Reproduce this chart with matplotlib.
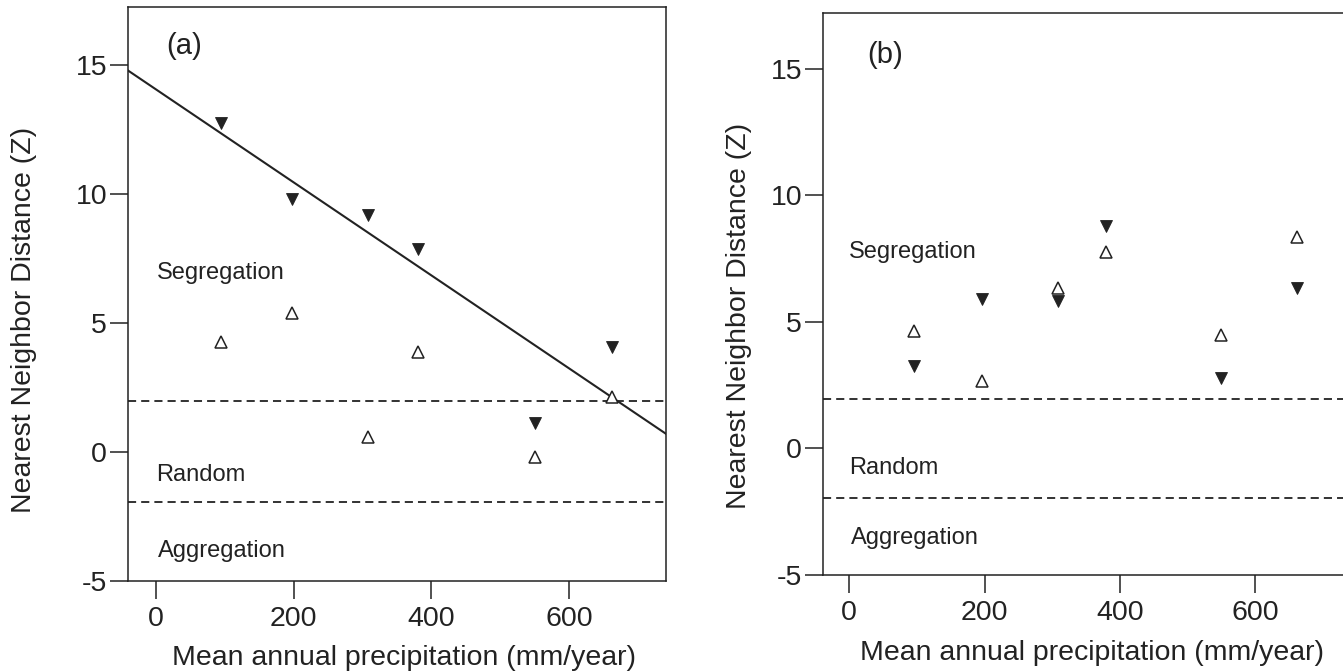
import matplotlib
matplotlib.use("Agg")
import matplotlib.pyplot as plt
import numpy as np

plt.rcParams['font.family'] = ['Liberation Sans', 'DejaVu Sans']
plt.rcParams['axes.unicode_minus'] = False

# precipitation (mm/year) of the six sites
precip = [95, 197, 308, 380, 550, 662]

# panel (a)
a_filled = [12.74, 9.81, 9.19, 7.87, 1.10, 4.07]
a_open = [4.24, 5.38, 0.56, 3.87, -0.19, 2.13]
# panel (b)
b_filled = [3.27, 5.91, 5.83, 8.79, 2.79, 6.33]
b_open = [4.64, 2.68, 6.33, 7.78, 4.49, 8.35]

xticks = [0, 200, 400, 600]
yticks = [-5, 0, 5, 10, 15]
zone_labels = ['Segregation', 'Random', 'Aggregation']
crit = 1.96

ink = '#222222'

fig = plt.figure(figsize=(13.43, 6.72), dpi=100)
ax_a = fig.add_axes([0.09553, 0.13586, 0.40015, 0.85327])
ax_b = fig.add_axes([0.61303, 0.14479, 0.39196, 0.83631])


def style(ax, xlim, ylim):
    ax.set_xlim(*xlim)
    ax.set_ylim(*ylim)
    ax.set_xticks(xticks)
    ax.set_yticks(yticks)
    ax.tick_params(direction='out', length=13.3, width=1.1, colors=ink,
                   labelsize=20.5)
    ax.tick_params(axis='x', pad=5)
    ax.tick_params(axis='y', pad=2)
    for s in ax.spines.values():
        s.set_linewidth(1.1)
        s.set_color(ink)
    ax.axhline(crit, color=ink, lw=1.3, ls=(0, (4.5, 2.8)))
    ax.axhline(-crit, color=ink, lw=1.3, ls=(0, (4.5, 2.8)))
    ax.set_xlabel('Mean annual precipitation (mm/year)', fontsize=20.5,
                  color=ink, va='top')
    ax.set_ylabel('Nearest Neighbor Distance (Z)', fontsize=20.5, color=ink)


style(ax_a, (-40, 740), (-5, 17.235))
style(ax_b, (-38.4, 740), (-5, 17.226))

# markers
for ax, filled, hollow in [(ax_a, a_filled, a_open), (ax_b, b_filled, b_open)]:
    ax.plot(precip, filled, ls='none', marker='v', ms=8.6, color=ink,
            mec=ink, mew=0.6, zorder=3)
    ax.plot(precip, hollow, ls='none', marker='^', ms=8.2, mfc='white',
            mec=ink, mew=1.1, zorder=3)

# regression line for filled markers in (a)
k, b0 = np.polyfit(precip, a_filled, 1)
xx = np.array([-40, 740])
ax_a.plot(xx, k * xx + b0, color=ink, lw=1.5, zorder=2)

# zone labels
a_pos = [(2, 6.69), (0.5, -1.15), (3.7, -4.09)]
b_pos = [(0, 7.51), (0, -1.03), (2.6, -3.8)]
for ax, pos in [(ax_a, a_pos), (ax_b, b_pos)]:
    for lab, (tx, ty) in zip(zone_labels, pos):
        ax.text(tx, ty, lab, fontsize=17, color=ink, ha='left', va='baseline')

ax_a.text(15, 15.43, '(a)', fontsize=21, color=ink, ha='left', va='baseline')
ax_b.text(26.6, 15.23, '(b)', fontsize=21, color=ink, ha='left', va='baseline')

ax_a.yaxis.set_label_coords(-0.169, 0.455)
ax_b.yaxis.set_label_coords(-0.135, 0.46)
ax_a.xaxis.set_label_coords(0.513, -0.112)
ax_b.xaxis.set_label_coords(0.51, -0.116)

fig.savefig('out.png', dpi=100)
